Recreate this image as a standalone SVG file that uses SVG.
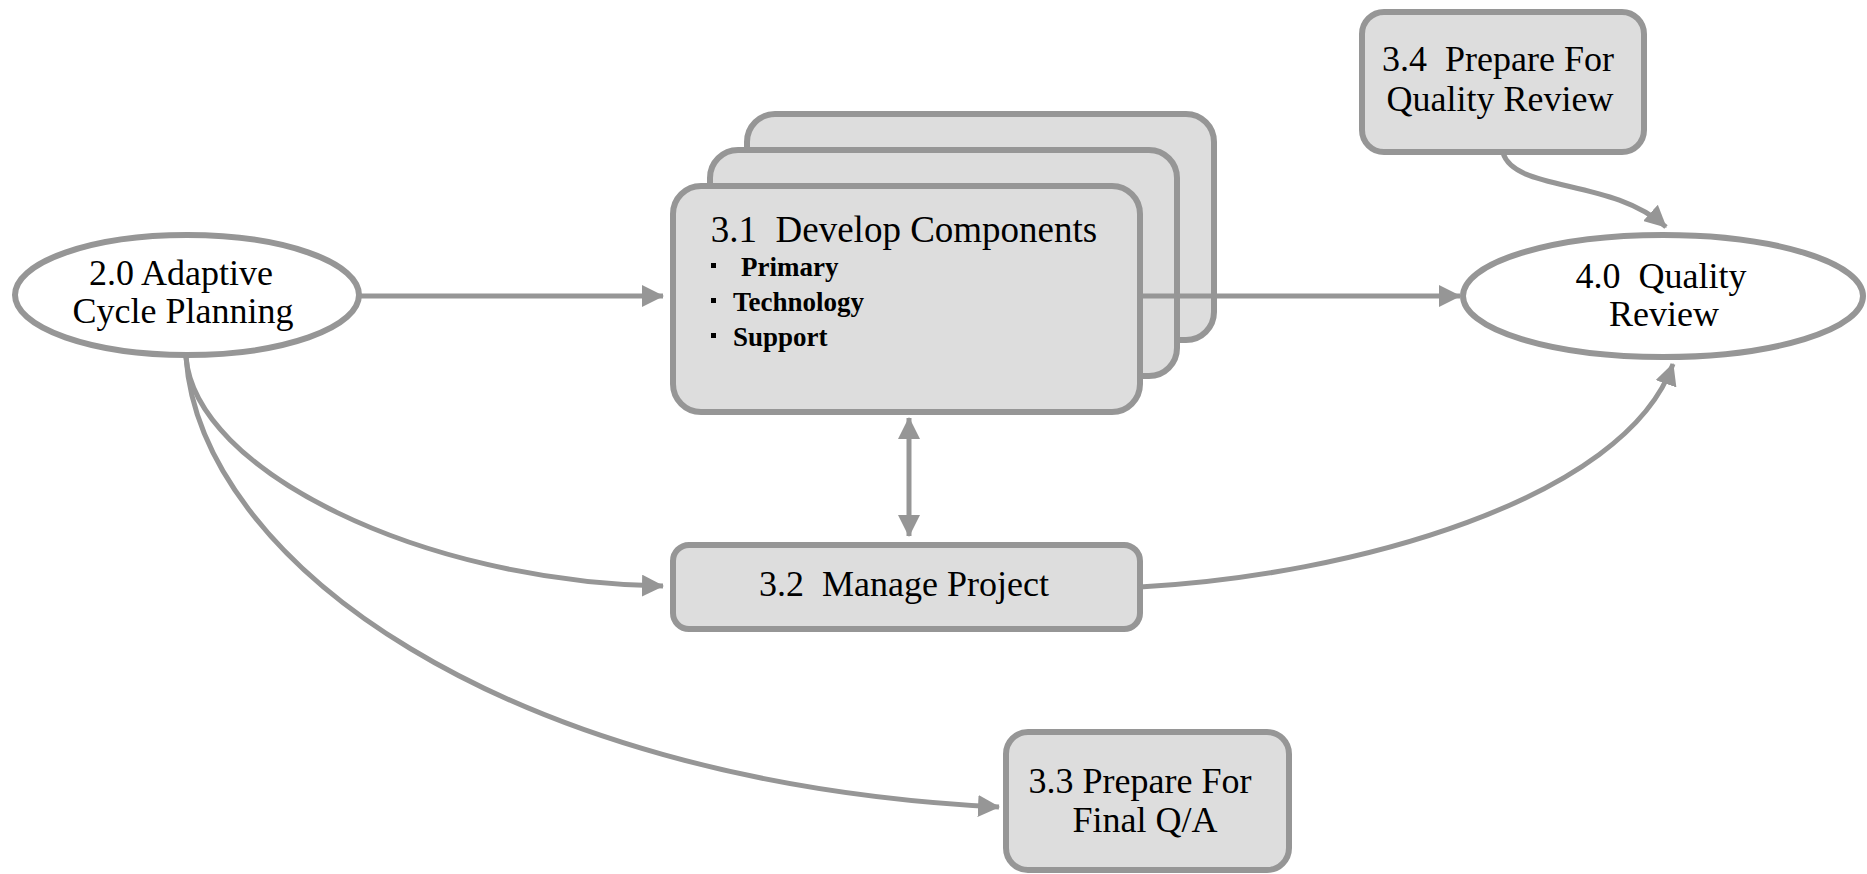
<svg xmlns="http://www.w3.org/2000/svg" width="1867" height="874" viewBox="0 0 1867 874">
<defs>
<style>
.box{fill:#dddddd;stroke:#969696;stroke-width:6}
.ell{fill:#ffffff;stroke:#969696;stroke-width:6}
text{font-family:'Liberation Serif','DejaVu Serif',serif;fill:#000;white-space:pre}
.t{font-size:36px;text-anchor:middle}
.b{font-size:27px;font-weight:bold}
.c{fill:none;stroke:#969696;stroke-width:5}
</style>
<marker id="ah" viewBox="0 0 22 22" refX="21" refY="11" markerWidth="22" markerHeight="22" markerUnits="userSpaceOnUse" orient="auto-start-reverse">
<path d="M0,0 L22,11 L0,22 z" fill="#969696"/>
</marker>
</defs>
<rect width="1867" height="874" fill="#ffffff"/>

<g id="n20">
<ellipse class="ell" cx="187" cy="295" rx="172" ry="60"/>
<text class="t" x="181" y="285" font-family="Liberation Serif, serif">2.0 Adaptive</text>
<text class="t" x="183" y="323" font-family="Liberation Serif, serif">Cycle Planning</text>
</g>

<g id="n31">
<rect class="box" x="747" y="114" width="467" height="226" rx="28"/>
<rect class="box" x="710" y="150" width="467" height="226" rx="28"/>
<rect class="box" x="673" y="186" width="467" height="226" rx="28"/>
<text class="t" x="904" y="242" style="font-size:37px" xml:space="preserve">3.1  Develop Components</text>
<rect x="711" y="263" width="5" height="5" fill="#000"/>
<rect x="711" y="298" width="5" height="5" fill="#000"/>
<rect x="711" y="333" width="5" height="5" fill="#000"/>
<text class="b" x="741" y="276">Primary</text>
<text class="b" x="733" y="311">Technology</text>
<text class="b" x="733" y="346">Support</text>
</g>

<g id="n32">
<rect class="box" x="673" y="545" width="467" height="84" rx="16"/>
<text class="t" x="904" y="596" xml:space="preserve">3.2  Manage Project</text>
</g>

<g id="n33">
<rect class="box" x="1006" y="732" width="283" height="138" rx="22"/>
<text class="t" x="1140" y="793">3.3 Prepare For</text>
<text class="t" x="1145" y="832">Final Q/A</text>
</g>

<g id="n34">
<rect class="box" x="1362" y="12" width="282" height="140" rx="22"/>
<text class="t" x="1498" y="71" xml:space="preserve">3.4  Prepare For</text>
<text class="t" x="1500" y="111">Quality Review</text>
</g>

<g id="n40">
<ellipse class="ell" cx="1663" cy="296" rx="200" ry="61"/>
<text class="t" x="1661" y="288" xml:space="preserve">4.0  Quality</text>
<text class="t" x="1664" y="326">Review</text>
</g>

<g id="connectors">
<path class="c" d="M359,296 L663,296" marker-end="url(#ah)"/>
<path class="c" d="M1140,296 L1460,296" marker-end="url(#ah)"/>
<path class="c" d="M909,418 L909,536" marker-start="url(#ah)" marker-end="url(#ah)"/>
<path class="c" d="M186,357 C195,470 420,582 663,586" marker-end="url(#ah)"/>
<path class="c" d="M186,357 C200,560 500,782 999,807" marker-end="url(#ah)"/>
<path class="c" d="M1140,587 C1350,576 1625,500 1673,364" marker-end="url(#ah)"/>
<path class="c" d="M1503,153 C1515,192 1612,178 1666,227" marker-end="url(#ah)"/>
</g>
</svg>
